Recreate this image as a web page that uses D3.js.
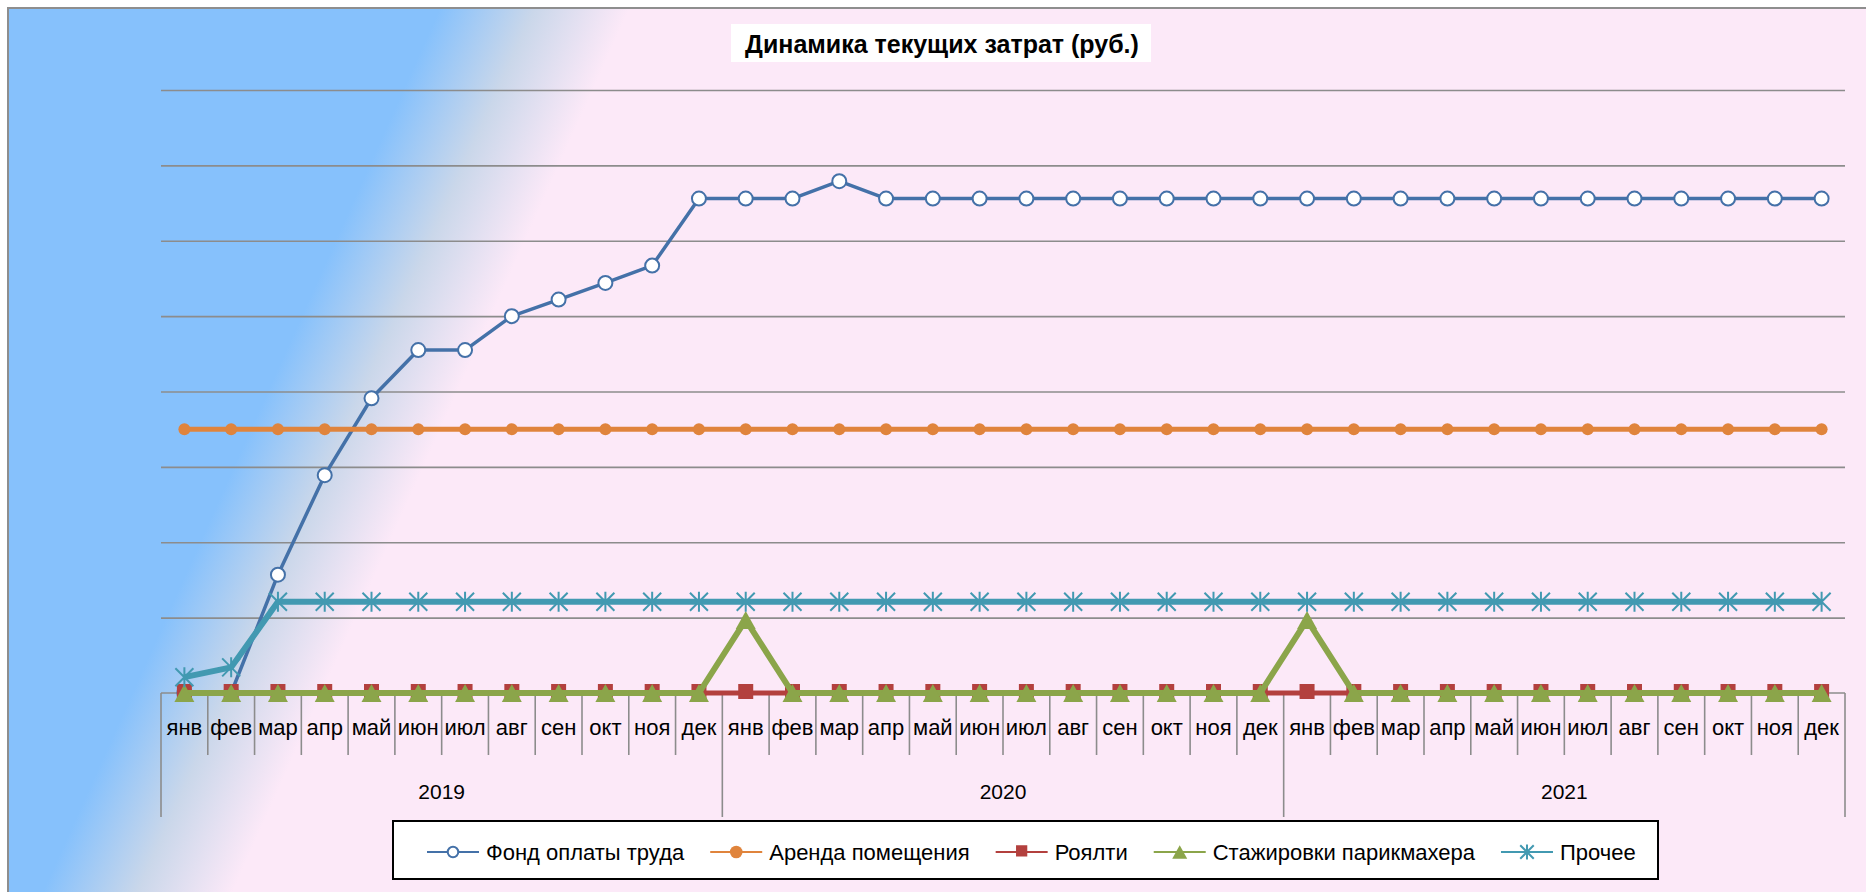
<!DOCTYPE html>
<html>
<head>
<meta charset="utf-8">
<script src="https://cdn.jsdelivr.net/npm/d3@7"></script>
<style>
  body { margin: 0; background: #fff; }
  text { font-family: 'Liberation Sans', Arial, sans-serif; fill: #000; }
</style>
</head>
<body>
<div id="vis"></div>
<script>
const FRAME_WIDTH = 1866;
const FRAME_HEIGHT = 892;
const PLOT = { left: 161, right: 1845, top: 90, bottom: 693 };

// categories: three years of months
const MONTHS = ['янв', 'фев', 'мар', 'апр', 'май', 'июн', 'июл', 'авг', 'сен', 'окт', 'ноя', 'дек'];
const YEARS = ['2019', '2020', '2021'];
const Y_TICKS = [0, 1, 2, 3, 4, 5, 6, 7, 8];

// series values (y axis has no labels, read in gridline units)
const WAGES = [
  0, 0, 1.57, 2.89, 3.91, 4.55, 4.55, 5.0, 5.22, 5.44, 5.67, 6.56,
  6.56, 6.56, 6.79, 6.56, 6.56, 6.56, 6.56, 6.56, 6.56, 6.56, 6.56, 6.56,
  6.56, 6.56, 6.56, 6.56, 6.56, 6.56, 6.56, 6.56, 6.56, 6.56, 6.56, 6.56
];
const RENT = [
  3.5, 3.5, 3.5, 3.5, 3.5, 3.5, 3.5, 3.5, 3.5, 3.5, 3.5, 3.5,
  3.5, 3.5, 3.5, 3.5, 3.5, 3.5, 3.5, 3.5, 3.5, 3.5, 3.5, 3.5,
  3.5, 3.5, 3.5, 3.5, 3.5, 3.5, 3.5, 3.5, 3.5, 3.5, 3.5, 3.5
];
const ROYALTY = [
  0, 0, 0, 0, 0, 0, 0, 0, 0, 0, 0, 0,
  0, 0, 0, 0, 0, 0, 0, 0, 0, 0, 0, 0,
  0, 0, 0, 0, 0, 0, 0, 0, 0, 0, 0, 0
];
const TRAINING = [
  0, 0, 0, 0, 0, 0, 0, 0, 0, 0, 0, 0,
  0.97, 0, 0, 0, 0, 0, 0, 0, 0, 0, 0, 0,
  0.97, 0, 0, 0, 0, 0, 0, 0, 0, 0, 0, 0
];
const OTHER = [
  0.21, 0.34, 1.21, 1.21, 1.21, 1.21, 1.21, 1.21, 1.21, 1.21, 1.21, 1.21,
  1.21, 1.21, 1.21, 1.21, 1.21, 1.21, 1.21, 1.21, 1.21, 1.21, 1.21, 1.21,
  1.21, 1.21, 1.21, 1.21, 1.21, 1.21, 1.21, 1.21, 1.21, 1.21, 1.21, 1.21
];

const CATEGORIES = YEARS.flatMap((year) => MONTHS.map((month) => ({ year, month })));

const SERIES = [
  { name: 'Фонд оплаты труда', values: WAGES, color: '#4471A8', width: 3.5, marker: 'circleOpen' },
  { name: 'Аренда помещения', values: RENT, color: '#E0843C', width: 5, marker: 'circle' },
  { name: 'Роялти', values: ROYALTY, color: '#B3403E', width: 5, marker: 'square' },
  { name: 'Стажировки парикмахера', values: TRAINING, color: '#8BA54A', width: 6, marker: 'triangle' },
  { name: 'Прочее', values: OTHER, color: '#4299B1', width: 6, marker: 'star' }
];

const svg = d3.select('#vis')
  .append('svg')
  .attr('width', FRAME_WIDTH)
  .attr('height', FRAME_HEIGHT);

// background gradient (blue to pink, slanted)
const defs = svg.append('defs');
const grad = defs.append('linearGradient')
  .attr('id', 'bg')
  .attr('gradientUnits', 'userSpaceOnUse')
  .attr('x1', 440).attr('y1', 8)
  .attr('x2', 598).attr('y2', 79);
grad.append('stop').attr('offset', 0).attr('stop-color', '#86C1FC');
grad.append('stop').attr('offset', 0.5).attr('stop-color', '#CAD7EA');
grad.append('stop').attr('offset', 1).attr('stop-color', '#FCE9F8');

svg.append('rect')
  .attr('x', 8).attr('y', 8)
  .attr('width', FRAME_WIDTH + 20).attr('height', FRAME_HEIGHT + 20)
  .attr('fill', 'url(#bg)')
  .attr('stroke', '#8E8E8E')
  .attr('stroke-width', 2);

const X_SCALE = d3.scaleBand()
  .domain(d3.range(CATEGORIES.length))
  .range([PLOT.left, PLOT.right]);
const Y_SCALE = d3.scaleLinear()
  .domain([0, 8])
  .range([PLOT.bottom, PLOT.top]);
const cx = (i) => X_SCALE(i) + X_SCALE.bandwidth() / 2;

// horizontal gridlines
svg.append('g')
  .attr('transform', 'translate(' + PLOT.left + ',0)')
  .call(d3.axisLeft(Y_SCALE).tickValues(Y_TICKS.slice(1)).tickSize(-(PLOT.right - PLOT.left)).tickFormat(''))
  .call((g) => g.select('.domain').remove())
  .call((g) => g.selectAll('line').attr('stroke', '#8C8C8C').attr('stroke-width', 1.6));

// title
const title = svg.append('g');
title.append('rect')
  .attr('x', 731).attr('y', 24).attr('width', 420).attr('height', 38)
  .attr('fill', '#fff');
title.append('text')
  .attr('x', 942).attr('y', 53)
  .attr('text-anchor', 'middle')
  .attr('font-size', 25)
  .attr('font-weight', 'bold')
  .text('Динамика текущих затрат (руб.)');

// category axis (two levels)
const axis = svg.append('g');
axis.append('line')
  .attr('x1', PLOT.left).attr('x2', PLOT.right)
  .attr('y1', PLOT.bottom).attr('y2', PLOT.bottom)
  .attr('stroke', '#8C8C8C').attr('stroke-width', 1.6);

const boundaries = d3.range(CATEGORIES.length + 1);
axis.selectAll('.ctick')
  .data(boundaries)
  .enter()
  .append('line')
  .attr('x1', (i) => PLOT.left + i * X_SCALE.step())
  .attr('x2', (i) => PLOT.left + i * X_SCALE.step())
  .attr('y1', PLOT.bottom)
  .attr('y2', (i) => (i % 12 === 0 ? 817 : 755))
  .attr('stroke', '#8C8C8C')
  .attr('stroke-width', 1.6);

axis.selectAll('.month')
  .data(CATEGORIES)
  .enter()
  .append('text')
  .attr('x', (d, i) => cx(i))
  .attr('y', 735)
  .attr('text-anchor', 'middle')
  .attr('font-size', 22)
  .text((d) => d.month);

axis.selectAll('.year')
  .data(YEARS)
  .enter()
  .append('text')
  .attr('x', (d, k) => (cx(k * 12) + cx(k * 12 + 11)) / 2)
  .attr('y', 799)
  .attr('text-anchor', 'middle')
  .attr('font-size', 21)
  .text((d) => d);

// marker shapes
function drawMarker(g, type, color, scale) {
  const s = scale || 1;
  if (type === 'circleOpen') {
    g.append('circle').attr('r', 7 * s).attr('fill', '#fff').attr('stroke', color).attr('stroke-width', 2);
  } else if (type === 'circle') {
    g.append('circle').attr('r', 6 * s).attr('fill', color);
  } else if (type === 'square') {
    g.append('rect').attr('x', -7.5 * s).attr('y', -9 * s).attr('width', 15 * s).attr('height', 15 * s).attr('fill', color);
  } else if (type === 'triangle') {
    g.append('path')
      .attr('d', 'M0,' + -9 * s + 'L' + 10 * s + ',' + 9 * s + 'L' + -10 * s + ',' + 9 * s + 'Z')
      .attr('fill', color);
  } else if (type === 'star') {
    g.append('path')
      .attr('d', 'M0,' + -10 * s + 'V' + 10 * s +
        'M' + -9 * s + ',' + -9 * s + 'L' + 9 * s + ',' + 9 * s +
        'M' + -9 * s + ',' + 9 * s + 'L' + 9 * s + ',' + -9 * s)
      .attr('stroke', color).attr('stroke-width', 2).attr('fill', 'none');
  }
}

// series lines and markers, drawn in legend order
const line = d3.line()
  .x((d, i) => cx(i))
  .y((d) => Y_SCALE(d));

SERIES.forEach((s) => {
  const g = svg.append('g');
  g.append('path')
    .datum(s.values)
    .attr('d', line)
    .attr('fill', 'none')
    .attr('stroke', s.color)
    .attr('stroke-width', s.width)
    .attr('stroke-linejoin', 'round');
  g.selectAll('.m')
    .data(s.values)
    .enter()
    .append('g')
    .attr('transform', (d, i) => 'translate(' + cx(i) + ',' + Y_SCALE(d) + ')')
    .each(function () { drawMarker(d3.select(this), s.marker, s.color); });
});

// legend
const legend = svg.append('g');
legend.append('rect')
  .attr('x', 393).attr('y', 821).attr('width', 1265).attr('height', 58)
  .attr('fill', '#fff').attr('stroke', '#000').attr('stroke-width', 2);

let lx = 427;
SERIES.forEach((s) => {
  const item = legend.append('g');
  item.append('line')
    .attr('x1', lx).attr('x2', lx + 52)
    .attr('y1', 852).attr('y2', 852)
    .attr('stroke', s.color).attr('stroke-width', 2);
  const mg = item.append('g').attr('transform', 'translate(' + (lx + 26) + ',852)');
  drawMarker(mg, s.marker, s.color, s.marker === 'circle' ? 1.05 : 0.75);
  const t = item.append('text')
    .attr('x', lx + 59).attr('y', 860)
    .attr('font-size', 22)
    .text(s.name);
  lx = lx + 59 + t.node().getComputedTextLength() + 26;
});
</script>
</body>
</html>
